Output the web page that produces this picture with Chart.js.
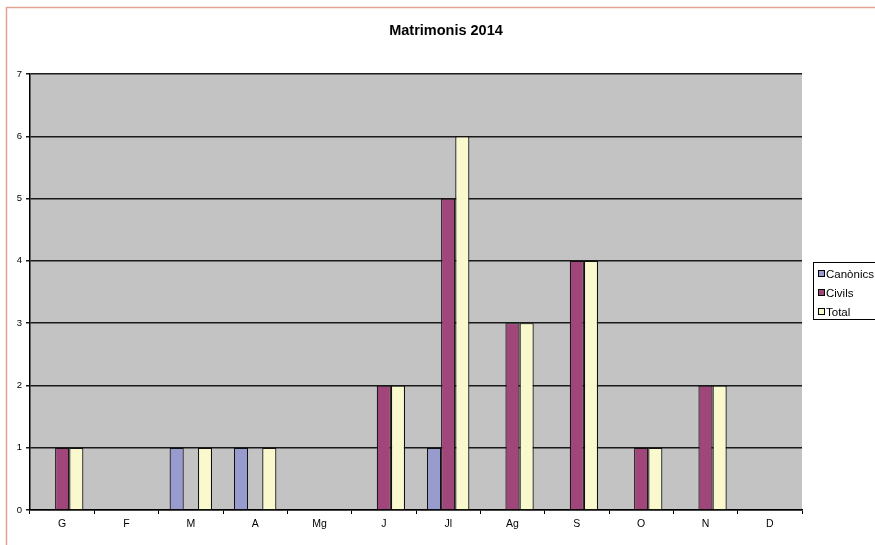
<!DOCTYPE html>
<html><head><meta charset="utf-8">
<script src="https://cdn.jsdelivr.net/npm/chart.js@4/dist/chart.umd.min.js"></script>
<style>html,body{margin:0;padding:0;background:#fff}#wrap{width:875px;height:545px;position:relative}</style>
</head><body><div id="wrap"><canvas id="c" width="875" height="545"></canvas></div>
<script>
const categories = ["G","F","M","A","Mg","J","Jl","Ag","S","O","N","D"];
const canonics = [0,0,1,1,0,0,1,0,0,0,0,0];
const civils   = [1,0,0,0,0,2,5,3,4,1,2,0];
const total    = [1,0,1,1,0,2,6,3,4,1,2,0];
const seriesNames = ["Canònics","Civils","Total"];
const titleText = "Matrimonis 2014";
const FONT = "'Liberation Sans', Arial, sans-serif";

const deco = {
  id:'deco',
  beforeDraw(chart){
    const {ctx, chartArea:a} = chart;
    ctx.save();
    ctx.fillStyle = '#fff'; ctx.fillRect(0,0,chart.width,chart.height);
    ctx.fillStyle = '#C2C3C2';
    ctx.fillRect(a.left, a.top, a.right-a.left, a.bottom-a.top);
    ctx.restore();
  },
  afterDraw(chart){
    const ctx = chart.ctx;
    ctx.save();
    ctx.strokeStyle = '#E2A595'; ctx.lineWidth = 1.5;
    ctx.beginPath(); ctx.moveTo(875,7.5); ctx.lineTo(6.5,7.5); ctx.lineTo(6.5,545); ctx.stroke();
    ctx.fillStyle = '#000'; ctx.font = "bold 14.5px "+FONT;
    ctx.textAlign='center'; ctx.textBaseline='middle';
    ctx.fillText(titleText, 446, 31);
    ctx.strokeStyle='#000'; ctx.lineWidth=1;
    ctx.fillStyle='#fff';
    ctx.fillRect(813.5,262.5,70,57); ctx.strokeRect(813.5,262.5,70,57);
    ctx.font = "11.5px "+FONT; ctx.textAlign='left';
    chart.data.datasets.forEach((ds,i)=>{
      const y = 274 + i*19;
      ctx.fillStyle = ds.backgroundColor;
      ctx.fillRect(818.5, y-3.5, 6, 6);
      ctx.strokeRect(818.5, y-3.5, 6, 6);
      ctx.fillStyle='#000';
      ctx.fillText(ds.label, 826, y+0.5);
    });
    ctx.restore();
  }
};

new Chart(document.getElementById('c'), {
  type:'bar',
  data:{
    labels: categories,
    datasets:[
      {label:seriesNames[0], data:canonics, backgroundColor:'#989BCD', borderColor:'#111', borderWidth:1.2},
      {label:seriesNames[1], data:civils, backgroundColor:'#A0467A', borderColor:'#111', borderWidth:1.2},
      {label:seriesNames[2], data:total, backgroundColor:'#FAF8CD', borderColor:'#111', borderWidth:1.2}
    ]
  },
  options:{
    responsive:false, animation:false,
    layout:{padding:{left:0,right:73,top:74,bottom:0}},
    plugins:{legend:{display:false}, title:{display:false}, tooltip:{enabled:false}},
    datasets:{bar:{categoryPercentage:0.66, barPercentage:1}},
    scales:{
      x:{
        afterFit(s){ s.height = 35; },
        grid:{offset:true, drawOnChartArea:false, drawTicks:true, tickLength:4, color:'#000', lineWidth:1},
        border:{display:true, color:'#000', width:1.5},
        ticks:{color:'#000', font:{family:FONT, size:10.5}, padding:4, maxRotation:0}
      },
      y:{
        min:0, max:7,
        afterFit(s){ s.width = 30; },
        grid:{color:'#1a1a1a', lineWidth:1.5, drawTicks:true, tickLength:4},
        border:{display:true, color:'#000', width:1.5},
        ticks:{stepSize:1, color:'#000', font:{family:FONT, size:9.5}, padding:4}
      }
    }
  },
  plugins:[deco]
});
</script></body></html>
